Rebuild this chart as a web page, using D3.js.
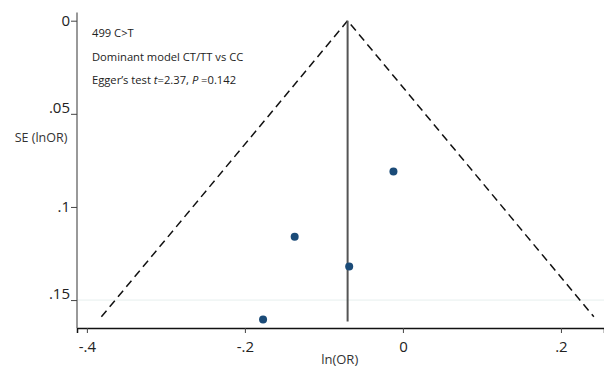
<!DOCTYPE html>
<html>
<head>
<meta charset="utf-8">
<script src="https://cdn.jsdelivr.net/npm/d3@7"></script>
<style>
  body { margin: 0; background: #fff; }
  svg { display: block; }
</style>
</head>
<body>
<div id="container"></div>
<script>
let w = 604;
let h = 367;

// study points: ln(OR) and SE(lnOR)
let lnOR = [-0.012, -0.137, -0.068, -0.177];
let seLnOR = [0.081, 0.116, 0.132, 0.1605];
let pooled = -0.07;
let seMax = 0.159;

let xTicks = [-0.4, -0.2, 0, 0.2];
let xTickLabels = ["-.4", "-.2", "0", ".2"];
let yTicks = [0, 0.05, 0.1, 0.15];
let yTickLabels = ["0", ".05", ".1", ".15"];
let notes = ["499 C>T", "Dominant model CT/TT vs CC", "Egger\u2019s test "];

let viz = d3.select('#container')
    .append('svg')
    .attr('width', w)
    .attr('height', h);

// SCALES
let xScale = d3.scaleLinear().domain([-0.4125, 0.2545]).range([77, 604]);
let yScale = d3.scaleLinear().domain([0, 0.165]).range([20.7, 328]);

// faint reference line at .15
viz.append('line')
    .attr('x1', 77).attr('x2', w)
    .attr('y1', yScale(0.15)).attr('y2', yScale(0.15))
    .attr('stroke', '#e6efee').attr('stroke-width', 1);

// AXES
let xAxis = d3.axisBottom(xScale)
    .tickValues(xTicks)
    .tickFormat((d, i) => xTickLabels[i])
    .tickSizeOuter(0)
    .tickSize(5);
let xAxisGroup = viz.append('g').attr('transform', 'translate(0,328)').call(xAxis);
xAxisGroup.select('.domain').attr('stroke', '#111').attr('stroke-width', 1.5);
xAxisGroup.selectAll('line').attr('stroke', '#444');
xAxisGroup.selectAll('text')
    .attr('font-family', 'Open Sans, sans-serif')
    .attr('font-size', 15)
    .attr('fill', '#222')
    .attr('y', 13);

let yAxis = d3.axisLeft(yScale)
    .tickValues(yTicks)
    .tickFormat((d, i) => yTickLabels[i])
    .tickSizeOuter(0)
    .tickSize(6);
let yAxisGroup = viz.append('g').attr('transform', 'translate(77,0)').call(yAxis);
yAxisGroup.select('.domain').attr('d', 'M0,12.5V328').attr('stroke', '#777').attr('stroke-width', 1.5);
yAxisGroup.selectAll('line').attr('stroke', '#444');
yAxisGroup.selectAll('text')
    .attr('font-family', 'Open Sans, sans-serif')
    .attr('font-size', 15)
    .attr('fill', '#222')
    .attr('x', -7)
    .attr('dy', (d, i) => (i % 2 == 1 ? '-0.1em' : '0.32em'));

// axis titles
viz.append('text')
    .attr('x', 41).attr('y', 142)
    .attr('text-anchor', 'middle')
    .attr('font-family', 'Open Sans, sans-serif')
    .attr('font-size', 12.5)
    .attr('fill', '#333')
    .text('SE (lnOR)');
viz.append('text')
    .attr('x', xScale(-0.08)).attr('y', 364)
    .attr('text-anchor', 'middle')
    .attr('font-family', 'Open Sans, sans-serif')
    .attr('font-size', 13)
    .attr('fill', '#333')
    .text('ln(OR)');

// FUNNEL
let funnel = [
    [pooled - 1.96 * seMax, seMax],
    [pooled, 0],
    [pooled + 1.96 * seMax, seMax]
];
let line = d3.line().x(d => xScale(d[0])).y(d => yScale(d[1]));
viz.append('path')
    .attr('d', line(funnel))
    .attr('fill', 'none')
    .attr('stroke', '#111')
    .attr('stroke-width', 1.5)
    .attr('stroke-dasharray', '8,5');

// pooled estimate line
viz.append('line')
    .attr('x1', xScale(pooled)).attr('x2', xScale(pooled))
    .attr('y1', yScale(0)).attr('y2', yScale(0.1615))
    .attr('stroke', '#555').attr('stroke-width', 2);

// POINTS
viz.selectAll('.study')
    .data(lnOR)
    .enter()
    .append('circle')
    .classed('study', true)
    .attr('cx', d => xScale(d))
    .attr('cy', (d, i) => yScale(seLnOR[i]))
    .attr('r', 4)
    .attr('fill', '#1b4b78');

// NOTES
let noteGroup = viz.append('g')
    .attr('font-family', 'Open Sans, sans-serif')
    .attr('font-size', 11.2)
    .attr('fill', '#222');
noteGroup.append('text').attr('x', 92).attr('y', 37).text(notes[0]);
noteGroup.append('text').attr('x', 92).attr('y', 61).text(notes[1]);
let egger = noteGroup.append('text').attr('x', 92).attr('y', 84);
egger.append('tspan').text(notes[2]);
egger.append('tspan').attr('font-style', 'italic').text('t');
egger.append('tspan').text('=2.37, ');
egger.append('tspan').attr('font-style', 'italic').text('P');
egger.append('tspan').text(' =0.142');
</script>
</body>
</html>
